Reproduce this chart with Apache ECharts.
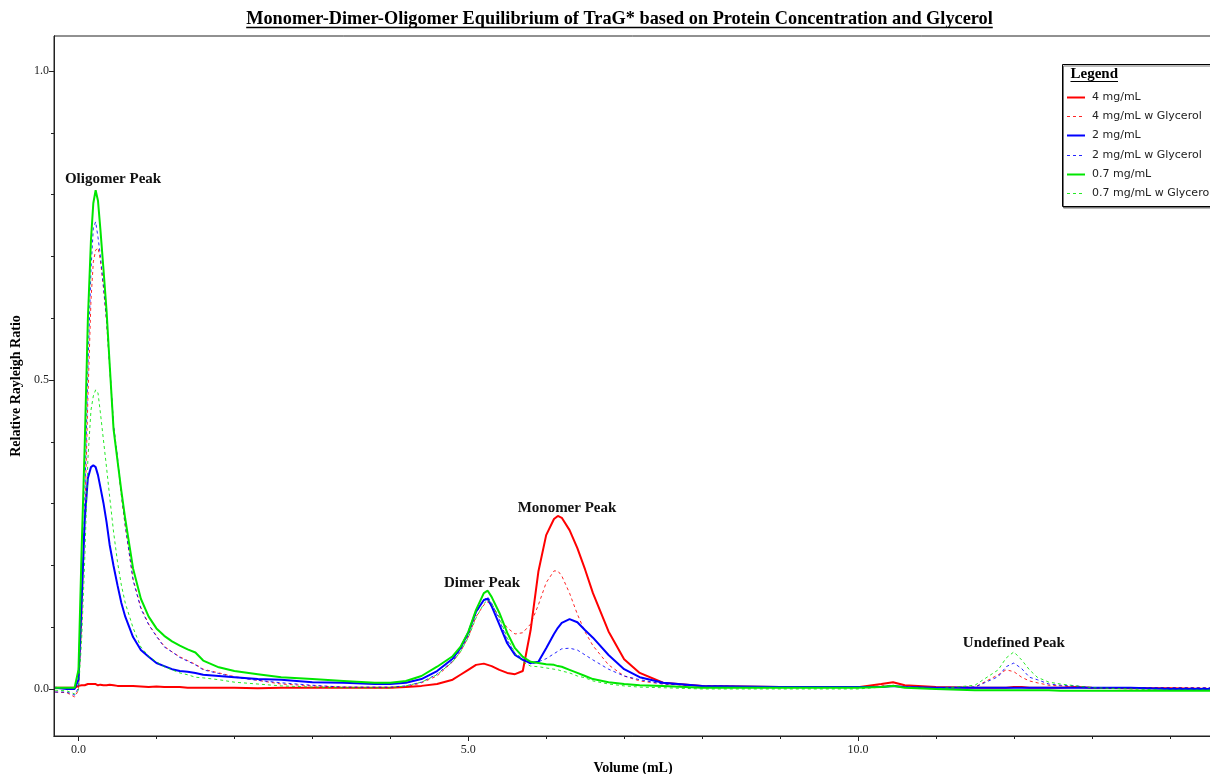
<!DOCTYPE html>
<html><head><meta charset="utf-8">
<script src="https://cdn.jsdelivr.net/npm/echarts@6/dist/echarts.min.js"></script>
<style>html,body{margin:0;padding:0;background:#fff;overflow:hidden}#c{width:1210px;height:774px}</style>
</head><body><div id="c"></div>
<script>
// ---- data ----
const volume = [-0.30,-0.15,-0.05,0.00,0.04,0.08,0.12,0.16,0.19,0.22,0.25,0.28,0.32,0.36,0.40,0.45,0.50,0.55,0.60,0.70,0.80,0.90,1.00,1.10,1.20,1.30,1.40,1.50,1.60,1.80,2.00,2.30,2.60,3.00,3.40,3.80,4.00,4.20,4.40,4.60,4.80,4.90,5.00,5.10,5.20,5.25,5.30,5.40,5.50,5.60,5.70,5.80,5.90,6.00,6.10,6.15,6.20,6.30,6.40,6.50,6.60,6.80,7.00,7.20,7.50,8.00,9.00,10.00,10.30,10.45,10.60,11.00,11.50,11.80,11.90,12.00,12.10,12.20,12.30,12.45,12.60,12.80,13.00,13.50,14.00,14.52];

const red4 = [0.002,0.002,0.002,0.005,0.006,0.006,0.008,0.008,0.008,0.008,
 0.006,0.007,0.006,0.006,0.007,0.006,0.005,0.005,0.005,0.005,
 0.004,0.003,0.004,0.003,0.003,0.003,0.002,0.002,0.002,0.002,
 0.002,0.001,0.002,0.002,0.002,0.002,0.002,0.003,0.005,0.008,
 0.015,0.023,0.031,0.039,0.041,0.039,0.037,0.031,0.026,0.024,
 0.029,0.095,0.190,0.249,0.275,0.280,0.277,0.257,0.228,0.193,
 0.155,0.093,0.048,0.026,0.010,0.005,0.003,0.003,0.008,0.011,
 0.006,0.003,0.002,0.002,0.002,0.003,0.003,0.002,0.002,0.002,
 0.002,0.003,0.002,0.001,0.001,0.000];

const red4Gly = [-0.005,-0.006,-0.013,-0.002,0.104,0.273,0.468,0.629,0.691,0.710,
 0.714,0.695,0.650,0.594,0.521,0.425,0.372,0.313,0.263,0.178,
 0.132,0.105,0.086,0.069,0.060,0.052,0.046,0.040,0.032,0.026,
 0.020,0.014,0.008,0.005,0.003,0.002,0.002,0.003,0.010,0.021,
 0.044,0.060,0.084,0.117,0.136,0.141,0.134,0.117,0.099,0.089,
 0.091,0.105,0.136,0.172,0.191,0.191,0.183,0.155,0.121,0.092,
 0.070,0.039,0.021,0.013,0.008,0.005,0.003,0.003,0.005,0.006,
 0.003,0.002,0.003,0.023,0.031,0.028,0.019,0.013,0.010,0.006,
 0.005,0.003,0.002,0.002,0.002,0.002];

const blue2 = [0.002,0.000,0.000,0.015,0.144,0.273,0.341,0.359,0.362,0.359,
 0.346,0.327,0.301,0.270,0.233,0.199,0.168,0.139,0.117,0.084,
 0.063,0.052,0.042,0.037,0.032,0.029,0.028,0.026,0.023,0.021,
 0.019,0.016,0.015,0.011,0.010,0.008,0.008,0.010,0.016,0.029,
 0.049,0.066,0.091,0.125,0.144,0.146,0.134,0.104,0.074,0.055,
 0.047,0.042,0.044,0.066,0.089,0.099,0.107,0.113,0.108,0.095,
 0.083,0.055,0.032,0.019,0.010,0.005,0.003,0.003,0.003,0.005,
 0.003,0.002,0.002,0.002,0.002,0.002,0.002,0.002,0.002,0.002,
 0.002,0.002,0.002,0.002,0.000,0.000];

const blue2Gly = [-0.005,-0.005,-0.010,0.002,0.112,0.306,0.516,0.678,0.746,0.756,
 0.731,0.702,0.652,0.597,0.524,0.427,0.375,0.315,0.265,0.176,
 0.130,0.104,0.085,0.068,0.060,0.051,0.045,0.039,0.031,0.025,
 0.019,0.014,0.010,0.006,0.003,0.003,0.003,0.005,0.011,0.024,
 0.045,0.063,0.087,0.123,0.144,0.149,0.139,0.112,0.079,0.058,
 0.049,0.040,0.044,0.049,0.057,0.061,0.065,0.066,0.063,0.055,
 0.047,0.032,0.021,0.015,0.008,0.005,0.003,0.003,0.003,0.005,
 0.003,0.002,0.003,0.020,0.036,0.042,0.033,0.019,0.015,0.008,
 0.006,0.005,0.002,0.002,0.002,0.002];

const green07 = [0.002,0.002,0.002,0.031,0.225,0.395,0.597,0.727,0.786,0.807,
 0.790,0.745,0.680,0.612,0.525,0.420,0.370,0.320,0.275,0.195,
 0.146,0.117,0.098,0.086,0.077,0.070,0.064,0.059,0.046,0.035,
 0.029,0.024,0.019,0.016,0.013,0.010,0.010,0.013,0.021,0.036,
 0.053,0.068,0.092,0.128,0.155,0.159,0.149,0.123,0.091,0.066,
 0.052,0.044,0.042,0.040,0.039,0.037,0.036,0.031,0.026,0.021,
 0.016,0.011,0.008,0.006,0.005,0.002,0.002,0.002,0.003,0.005,
 0.002,0.000,-0.002,-0.002,-0.002,-0.002,-0.002,-0.002,-0.002,-0.002,
 -0.003,-0.003,-0.003,-0.003,-0.003,-0.003];

const green07Gly = [-0.002,-0.003,-0.008,-0.002,0.079,0.209,0.371,0.451,0.474,0.484,
 0.479,0.448,0.403,0.358,0.311,0.254,0.206,0.168,0.139,0.099,
 0.068,0.053,0.044,0.036,0.031,0.026,0.023,0.019,0.018,0.015,
 0.011,0.008,0.005,0.003,0.002,0.002,0.002,0.005,0.011,0.023,
 0.044,0.060,0.083,0.115,0.138,0.144,0.139,0.115,0.083,0.058,
 0.044,0.037,0.036,0.034,0.032,0.031,0.029,0.026,0.021,0.018,
 0.013,0.008,0.005,0.003,0.002,0.000,0.000,0.000,0.003,0.006,
 0.003,0.000,0.006,0.031,0.050,0.060,0.047,0.031,0.019,0.011,
 0.008,0.005,0.002,0.000,-0.002,-0.002];

const seriesNames = ['4 mg/mL','4 mg/mL w Glycerol','2 mg/mL','2 mg/mL w Glycerol','0.7 mg/mL','0.7 mg/mL w Glycerol'];
const xMajorTicks = [0, 5, 10];
const xMinorTicks = [1, 2, 3, 4, 6, 7, 8, 9, 11, 12, 13, 14];
const yMajorTicks = [0, 0.5, 1.0];
const yMinorTicks = [0.1, 0.2, 0.3, 0.4, 0.6, 0.7, 0.8, 0.9];
const peakNames = ['Oligomer Peak', 'Dimer Peak', 'Monomer Peak', 'Undefined Peak'];
const peakVolumes = [0.443, 5.177, 6.267, 12.00];
const peakHeights = [0.825, 0.172, 0.293, 0.074];
const titleText = 'Monomer-Dimer-Oligomer Equilibrium of TraG* based on Protein Concentration and Glycerol';

// ---- chart ----
const X_MIN = -0.3143, X_MAX = 14.542, Y_MIN = -0.0761, Y_MAX = 1.0566;
const SERIF = '"Liberation Serif", "Times New Roman", serif';
const SANS = '"DejaVu Sans", sans-serif';
const RED = '#ff0000', BLUE = '#0000ff', GREEN = '#00e600';
const seriesData = [red4, red4Gly, blue2, blue2Gly, green07, green07Gly];
const colors = [RED, RED, BLUE, BLUE, GREEN, GREEN];
const DASH = [3, 3];

const chart = echarts.init(document.getElementById('c'), null, {renderer: 'canvas'});

const series = seriesData.map((arr, k) => {
  const dashed = k % 2 === 1;
  return {
    name: seriesNames[k], type: 'line', xAxisIndex: 0, yAxisIndex: 0,
    data: volume.map((v, i) => [v, arr[i]]),
    symbol: 'none', showSymbol: false, animation: false, z: 2 + k,
    lineStyle: {color: colors[k], width: dashed ? 1 : 2, type: dashed ? DASH : 'solid', opacity: dashed ? 0.85 : 1},
    itemStyle: {color: colors[k]}
  };
});

const axisLineStyle = {show: true, onZero: false, lineStyle: {color: '#222', width: 1}};

chart.setOption({
  animation: false,
  backgroundColor: '#fff',
  grid: {left: 54, right: -2, top: 36, bottom: 38, show: true, borderColor: '#222', borderWidth: 1,
    backgroundColor: 'transparent', containLabel: false, outerBoundsMode: 'none'},
  xAxis: [
    {
      type: 'value', min: X_MIN, max: X_MAX, position: 'bottom', splitLine: {show: false}, axisLine: axisLineStyle,
      axisTick: {show: true, customValues: xMajorTicks, length: 5, lineStyle: {color: '#222'}},
      axisLabel: {show: true, customValues: xMajorTicks, formatter: v => v.toFixed(1), margin: 8,
        fontFamily: SERIF, fontSize: 12, color: '#222'},
      name: 'Volume (mL)', nameLocation: 'middle', nameGap: 25,
      nameTextStyle: {fontFamily: SERIF, fontWeight: 'bold', fontSize: 14, color: '#000'}
    },
    {
      type: 'value', min: X_MIN, max: X_MAX, position: 'bottom', splitLine: {show: false}, axisLine: axisLineStyle,
      axisTick: {show: true, customValues: xMinorTicks, length: 3, lineStyle: {color: '#222'}},
      axisLabel: {show: false}
    }
  ],
  yAxis: [
    {
      type: 'value', min: Y_MIN, max: Y_MAX, position: 'left', splitLine: {show: false}, axisLine: axisLineStyle,
      axisTick: {show: true, customValues: yMajorTicks, length: 5, lineStyle: {color: '#222'}},
      axisLabel: {show: true, customValues: yMajorTicks, formatter: v => v.toFixed(1), margin: 5,
        fontFamily: SERIF, fontSize: 12, color: '#222'},
      name: 'Relative Rayleigh Ratio', nameLocation: 'middle', nameGap: 29, nameRotate: 90,
      nameTextStyle: {fontFamily: SERIF, fontWeight: 'bold', fontSize: 14, color: '#000'}
    },
    {
      type: 'value', min: Y_MIN, max: Y_MAX, position: 'left', splitLine: {show: false}, axisLine: axisLineStyle,
      axisTick: {show: true, customValues: yMinorTicks, length: 3, lineStyle: {color: '#222'}},
      axisLabel: {show: false}
    }
  ],
  series: series
});

// ---- text overlays (title, legend, peak labels) ----
const ctx = document.createElement('canvas').getContext('2d');
const titleFont = 'bold 18.3px ' + SERIF;
ctx.font = titleFont;
const titleW = ctx.measureText(titleText).width;
const titleCx = 619.5;
const legFont = 'bold 15px ' + SERIF;
ctx.font = legFont;
const legW = ctx.measureText('Legend').width;

const graphics = [
  {type: 'text', z: 20, style: {text: titleText, x: titleCx, y: 19.5, font: titleFont, fill: '#000', textAlign: 'center', textVerticalAlign: 'middle'}},
  {type: 'line', z: 20, shape: {x1: titleCx - titleW / 2, y1: 27.5, x2: titleCx + titleW / 2, y2: 27.5}, style: {stroke: '#000', lineWidth: 1.5}},
  {type: 'rect', z: 15, shape: {x: 1062.5, y: 64.5, width: 170, height: 142}, style: {fill: '#fff', stroke: '#000', lineWidth: 1, shadowColor: '#777', shadowOffsetX: 1, shadowOffsetY: 1.5, shadowBlur: 0}},
  {type: 'text', z: 20, style: {text: 'Legend', x: 1070.5, y: 74, font: legFont, fill: '#000', textAlign: 'left', textVerticalAlign: 'middle'}},
  {type: 'line', z: 20, shape: {x1: 1070.5, y1: 81.5, x2: 1070.5 + legW, y2: 81.5}, style: {stroke: '#000', lineWidth: 1.2}}
];
seriesNames.forEach((nm, k) => {
  const dashed = k % 2 === 1;
  const yy = Math.round(96.7 + k * 19.3) + 0.5;
  graphics.push({type: 'line', z: 20, shape: {x1: 1067, y1: yy, x2: 1085, y2: yy},
    style: {stroke: colors[k], lineWidth: dashed ? 1 : 2, lineDash: dashed ? DASH : null, opacity: dashed ? 0.85 : 1}});
  graphics.push({type: 'text', z: 20, style: {text: nm, x: 1092, y: yy, font: '11px ' + SANS, fill: '#222', textAlign: 'left', textVerticalAlign: 'middle'}});
});
peakNames.forEach((nm, i) => {
  const p = chart.convertToPixel({xAxisIndex: 0, yAxisIndex: 0}, [peakVolumes[i], peakHeights[i]]);
  graphics.push({type: 'text', z: 20, style: {text: nm, x: p[0], y: p[1], font: 'bold 15px ' + SERIF, fill: '#111', textAlign: 'center', textVerticalAlign: 'middle'}});
});
chart.setOption({graphic: graphics});
</script>
</body></html>
